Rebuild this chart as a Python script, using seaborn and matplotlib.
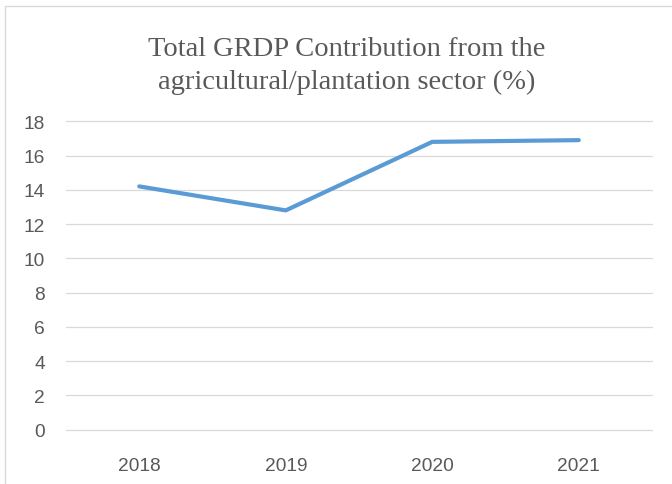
import matplotlib
matplotlib.use("Agg")
import matplotlib.pyplot as plt
from matplotlib.lines import Line2D
import pandas as pd
import seaborn as sns

# data
years = ["2018", "2019", "2020", "2021"]
grdp_share = [14.2, 12.8, 16.8, 16.9]
y_ticks = [0, 2, 4, 6, 8, 10, 12, 14, 16, 18]

title = "Total GRDP Contribution from the\nagricultural/plantation sector (%)"

df = pd.DataFrame({"year": years, "share": grdp_share})

sns.set_style("white")
plt.rcParams["font.family"] = ["Liberation Sans", "DejaVu Sans"]

W, H = 672, 485
fig = plt.figure(figsize=(W / 100, H / 100), dpi=100)
ax = fig.add_axes([66 / W, 1 - 430.7 / H, (652 - 66) / W, (430.7 - 122.3) / H])

sns.lineplot(data=df, x="year", y="share", ax=ax, color="#5B9BD5",
             linewidth=3, solid_capstyle="round", sort=False, zorder=3)

ax.set_xlim(-0.5, len(years) - 0.5)
ax.set_ylim(0, 18)
ax.set_yticks(y_ticks)
ax.set_xlabel("")
ax.set_ylabel("")
ax.grid(axis="y", color="#D9D9D9", linewidth=0.9)
ax.grid(axis="x", visible=False)
for gl in ax.get_ygridlines():
    gl.set_clip_on(False)
ax.set_axisbelow(True)
for s in ax.spines.values():
    s.set_visible(False)
ax.tick_params(axis="both", length=0, labelsize=13.8, labelcolor="#595959")
ax.tick_params(axis="y", pad=15)
ax.tick_params(axis="x", pad=20)

# chart title in a serif face, like the original
fig.text(347 / W, 1 - 66 / H, title, ha="center", va="center",
         fontsize=20.5, color="#595959", linespacing=1.4,
         family=["Liberation Serif", "DejaVu Serif"])

# light chart-area border (top and left edges visible)
fig.add_artist(Line2D([5 / W, 5 / W], [0, 1 - 7 / H], transform=fig.transFigure,
                      color="#D9D9D9", linewidth=1))
fig.add_artist(Line2D([5 / W, 1], [1 - 7 / H, 1 - 7 / H], transform=fig.transFigure,
                      color="#D9D9D9", linewidth=1))

fig.savefig("out.png", dpi=100)
